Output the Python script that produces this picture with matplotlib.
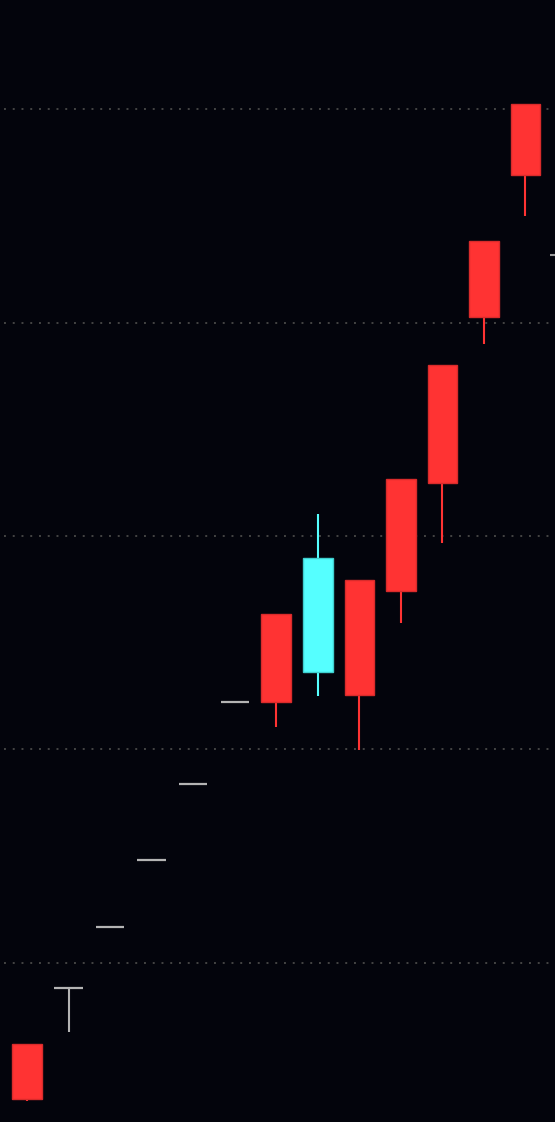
import matplotlib
matplotlib.use("Agg")
import matplotlib.pyplot as plt

# Candle data (price units)
opens  = [62.1, 88.3, 116.9, 148.2, 183.8, 222.2, 222.2, 289.7, 225.5, 274.2, 324.8, 402.6, 469.1]
closes = [36.3, 88.3, 116.9, 148.2, 183.8, 222.2, 263.5, 236.3, 279.4, 326.7, 380.1, 438.2, 502.3]
highs  = [62.1, 88.3, 116.9, 148.2, 183.8, 222.2, 263.5, 310.3, 279.4, 326.7, 380.1, 438.2, 502.3]
lows   = [35.4, 67.7, 116.9, 148.2, 183.8, 222.2, 210.5, 225.1, 199.8, 259.3, 296.7, 389.9, 449.9]
grid_levels = [100, 200, 300, 400, 500]
last_marker = 431.6

bg = '#03040c'
up_col, up_edge = '#ff3333', '#d92b2b'
down_col, down_edge = '#55ffff', '#3fcfcf'
flat_col = '#b4b4b4'

fig = plt.figure(figsize=(5.55, 11.22), dpi=100, facecolor=bg)
ax = fig.add_axes([0, 0, 1, 1])
ax.set_facecolor(bg)

for y in grid_levels:
    ax.axhline(y, xmin=0.008, xmax=0.995, color='#444444', linewidth=1.4,
               linestyle=(0, (1.0, 3.5)), zorder=0)

for i, (o, h, l, c) in enumerate(zip(opens, highs, lows, closes)):
    if o == c:
        # flat candle: horizontal dash plus wick
        ax.hlines(o, i - 0.34, i + 0.34, color=flat_col, linewidth=1.6, zorder=2)
        if l < o:
            ax.vlines(i, l, o, color=flat_col, linewidth=1.5, zorder=2)
        continue
    if i == 0:
        fc, ec = up_col, up_edge
    else:
        fc, ec = (up_col, up_edge) if c > o else (down_col, down_edge)
    ax.vlines(i, l, h, color=fc, linewidth=1.5, zorder=1)
    lo, hi = min(o, c), max(o, c)
    ax.bar(i, hi - lo, bottom=lo, width=0.71, color=fc, edgecolor=ec,
           linewidth=1.0, zorder=3)

# small price marker at the right edge
ax.hlines(last_marker, 12.6, 12.75, color='#9a9a9a', linewidth=1.5)

ax.set_xlim(-0.650, 12.711)
ax.set_ylim(25.5, 551.1)
ax.axis('off')

fig.savefig('out.png', dpi=100, facecolor=bg)
